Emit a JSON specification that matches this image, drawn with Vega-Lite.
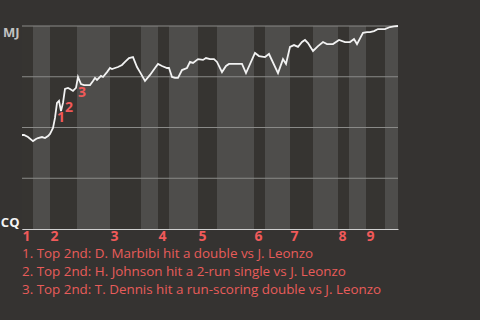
{
  "$schema": "https://vega.github.io/schema/vega-lite/v6.json",
  "width": 376,
  "height": 203,
  "autosize": {"type": "none"},
  "padding": {"left": 22, "top": 26, "right": 82, "bottom": 91},
  "background": "#353331",
  "config": {"view": {"stroke": null}, "font": "Open Sans"},
  "title": {
    "text": [
      "1. Top 2nd: D. Marbibi hit a double vs J. Leonzo",
      "2. Top 2nd: H. Johnson hit a 2-run single vs J. Leonzo",
      "3. Top 2nd: T. Dennis hit a run-scoring double vs J. Leonzo"
    ],
    "orient": "bottom",
    "anchor": "start",
    "frame": "group",
    "align": "left",
    "color": "#e85c5a",
    "font": "Open Sans",
    "fontSize": 13.4,
    "fontWeight": "normal",
    "lineHeight": 18,
    "offset": 4
  },
  "datasets": {
    "halves": [
      {"start": 0, "end": 11, "half": "top"},
      {"start": 11, "end": 28, "half": "bottom"},
      {"start": 28, "end": 55, "half": "top"},
      {"start": 55, "end": 88, "half": "bottom"},
      {"start": 88, "end": 119, "half": "top"},
      {"start": 119, "end": 136, "half": "bottom"},
      {"start": 136, "end": 147, "half": "top"},
      {"start": 147, "end": 176, "half": "bottom"},
      {"start": 176, "end": 195, "half": "top"},
      {"start": 195, "end": 232, "half": "bottom"},
      {"start": 232, "end": 243, "half": "top"},
      {"start": 243, "end": 268, "half": "bottom"},
      {"start": 268, "end": 291, "half": "top"},
      {"start": 291, "end": 316, "half": "bottom"},
      {"start": 316, "end": 327, "half": "top"},
      {"start": 327, "end": 344, "half": "bottom"},
      {"start": 344, "end": 363, "half": "top"},
      {"start": 363, "end": 376, "half": "bottom"}
    ],
    "grid": [{"p": 0.25}, {"p": 0.5}, {"p": 0.75}, {"p": 1}],
    "wp": [
      {"x": 0, "p": 0.463}, {"x": 2, "p": 0.463}, {"x": 6, "p": 0.453}, {"x": 11, "p": 0.433},
      {"x": 14, "p": 0.443}, {"x": 16, "p": 0.448}, {"x": 20, "p": 0.453}, {"x": 23, "p": 0.448},
      {"x": 26, "p": 0.458}, {"x": 28, "p": 0.468}, {"x": 31, "p": 0.498}, {"x": 33, "p": 0.547},
      {"x": 35, "p": 0.621}, {"x": 37, "p": 0.631}, {"x": 39, "p": 0.581}, {"x": 41, "p": 0.621},
      {"x": 43, "p": 0.69}, {"x": 46, "p": 0.695}, {"x": 48, "p": 0.69}, {"x": 51, "p": 0.68},
      {"x": 54, "p": 0.695}, {"x": 56, "p": 0.749}, {"x": 59, "p": 0.714}, {"x": 62, "p": 0.709},
      {"x": 68, "p": 0.709}, {"x": 71, "p": 0.729}, {"x": 73, "p": 0.744}, {"x": 75, "p": 0.734},
      {"x": 79, "p": 0.754}, {"x": 81, "p": 0.749}, {"x": 85, "p": 0.773}, {"x": 88, "p": 0.793},
      {"x": 90, "p": 0.788}, {"x": 93, "p": 0.793}, {"x": 96, "p": 0.798}, {"x": 100, "p": 0.808},
      {"x": 103, "p": 0.823}, {"x": 107, "p": 0.842}, {"x": 111, "p": 0.847}, {"x": 115, "p": 0.798},
      {"x": 118, "p": 0.773}, {"x": 123, "p": 0.729}, {"x": 128, "p": 0.759}, {"x": 133, "p": 0.793},
      {"x": 136, "p": 0.813}, {"x": 140, "p": 0.803}, {"x": 145, "p": 0.793}, {"x": 147, "p": 0.793},
      {"x": 150, "p": 0.749}, {"x": 153, "p": 0.744}, {"x": 156, "p": 0.744}, {"x": 160, "p": 0.783},
      {"x": 165, "p": 0.793}, {"x": 168, "p": 0.823}, {"x": 171, "p": 0.818}, {"x": 176, "p": 0.837},
      {"x": 181, "p": 0.833}, {"x": 184, "p": 0.842}, {"x": 188, "p": 0.837}, {"x": 192, "p": 0.837},
      {"x": 195, "p": 0.823}, {"x": 200, "p": 0.773}, {"x": 204, "p": 0.803}, {"x": 207, "p": 0.813},
      {"x": 220, "p": 0.813}, {"x": 224, "p": 0.768}, {"x": 233, "p": 0.867}, {"x": 237, "p": 0.852},
      {"x": 243, "p": 0.847}, {"x": 247, "p": 0.862}, {"x": 256, "p": 0.768}, {"x": 261, "p": 0.837},
      {"x": 264, "p": 0.813}, {"x": 268, "p": 0.897}, {"x": 272, "p": 0.906}, {"x": 276, "p": 0.897},
      {"x": 280, "p": 0.921}, {"x": 283, "p": 0.931}, {"x": 286, "p": 0.916}, {"x": 291, "p": 0.877},
      {"x": 296, "p": 0.901}, {"x": 301, "p": 0.921}, {"x": 305, "p": 0.911}, {"x": 311, "p": 0.911},
      {"x": 317, "p": 0.931}, {"x": 323, "p": 0.921}, {"x": 328, "p": 0.921}, {"x": 332, "p": 0.936},
      {"x": 335, "p": 0.911}, {"x": 341, "p": 0.966}, {"x": 345, "p": 0.97}, {"x": 348, "p": 0.97},
      {"x": 352, "p": 0.975}, {"x": 356, "p": 0.985}, {"x": 363, "p": 0.985}, {"x": 368, "p": 0.995},
      {"x": 372, "p": 0.998}, {"x": 376, "p": 1.0}
    ],
    "notes": [
      {"x": 35, "p": 0.626, "label": "1"},
      {"x": 43, "p": 0.675, "label": "2"},
      {"x": 56, "p": 0.749, "label": "3"}
    ]
  },
  "layer": [
    {
      "data": {"name": "halves"},
      "mark": {"type": "rect"},
      "encoding": {
        "x": {
          "field": "start",
          "type": "quantitative",
          "scale": {"domain": [0, 376], "nice": false, "zero": false},
          "axis": {
            "values": [0, 28, 88, 136, 176, 232, 268, 316, 344],
            "labelExpr": "indexof([0, 28, 88, 136, 176, 232, 268, 316, 344], datum.value) + 1",
            "grid": false,
            "ticks": false,
            "domainColor": "#cfcfcf",
            "domainWidth": 1,
            "labelColor": "#f05a5a",
            "labelFont": "Open Sans",
            "labelFontSize": 14,
            "labelFontWeight": "bold",
            "labelAlign": "left",
            "labelBaseline": "top",
            "labelPadding": 0,
            "labelFlush": false,
            "labelOverlap": false,
            "labelBound": false,
            "title": null
          }
        },
        "x2": {"field": "end"},
        "color": {
          "field": "half",
          "type": "nominal",
          "scale": {"domain": ["top", "bottom"], "range": ["#363431", "#4e4d4b"]},
          "legend": null
        }
      }
    },
    {
      "data": {"name": "grid"},
      "mark": {"type": "rule", "color": "#8a8a88", "strokeWidth": 1},
      "encoding": {
        "y": {
          "field": "p",
          "type": "quantitative",
          "scale": {"domain": [0, 1], "nice": false},
          "axis": {
            "values": [0, 1],
            "labelExpr": "datum.value == 1 ? 'MJ' : 'CQ'",
            "grid": false,
            "ticks": false,
            "domainColor": "#c4c4c4",
            "labelColor": {"condition": {"test": "datum.value == 1", "value": "#c2c2c2"}, "value": "#f4f4f4"},
            "labelBaseline": {"condition": {"test": "datum.value == 1", "value": "top"}, "value": "bottom"},
            "labelFont": "Open Sans",
            "labelFontSize": 13,
            "labelFontWeight": "bold",
            "labelPadding": 3,
            "labelFlush": false,
            "title": null
          }
        }
      }
    },
    {
      "data": {"name": "wp"},
      "mark": {"type": "line", "color": "#f2f2f2", "strokeWidth": 1.8},
      "encoding": {
        "x": {"field": "x", "type": "quantitative"},
        "y": {"field": "p", "type": "quantitative"}
      }
    },
    {
      "data": {"name": "notes"},
      "mark": {
        "type": "text",
        "color": "#f05a5a",
        "font": "Open Sans",
        "fontSize": 14,
        "fontWeight": "bold",
        "align": "center",
        "baseline": "middle",
        "dx": 4,
        "dy": 16
      },
      "encoding": {
        "x": {"field": "x", "type": "quantitative"},
        "y": {"field": "p", "type": "quantitative"},
        "text": {"field": "label"}
      }
    }
  ]
}
